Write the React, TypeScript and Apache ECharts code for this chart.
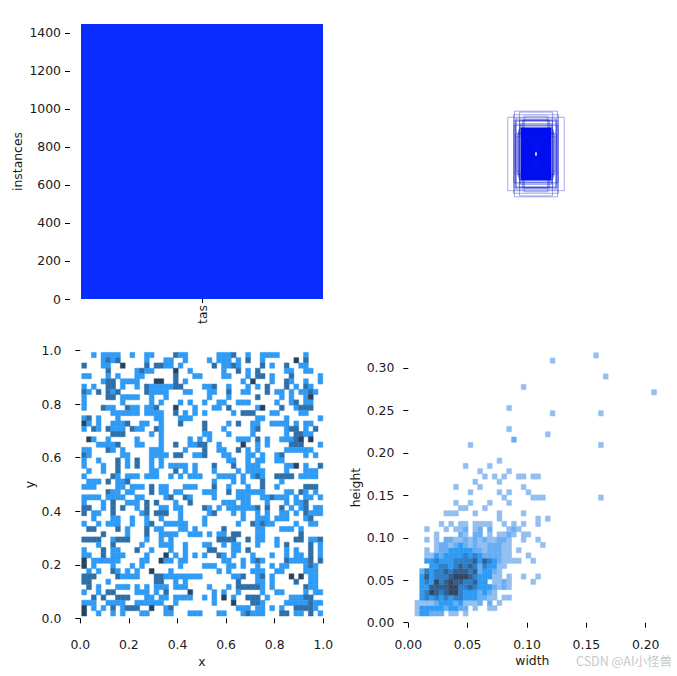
import React, { useEffect, useRef } from "react";
import * as echarts from "echarts";

const classNames = ["tas"];
const classCounts = [1447];
const instanceTicks = [0, 200, 400, 600, 800, 1000, 1200, 1400];
const unitTicks = [0, 0.2, 0.4, 0.6, 0.8, 1.0];
const widthTicks = [0, 0.05, 0.1, 0.15, 0.2];
const heightTicks = [0, 0.05, 0.1, 0.15, 0.2, 0.25, 0.3];

// box sizes (normalised) read from the anchor overlay, outer to inner
const boxWidths = [0.208, 0.158, 0.165, 0.121, 0.162, 0.162, 0.121, 0.087, 0.09, 0.152, 0.115, 0.1, 0.13, 0.12, 0.14, 0.118, 0.128, 0.11, 0.125, 0.135, 0.149, 0.147, 0.148, 0.15,
  0.105, 0.103, 0.102, 0.1, 0.097, 0.095, 0.092, 0.09, 0.087, 0.085, 0.083, 0.08, 0.077, 0.075, 0.072, 0.07, 0.068, 0.065, 0.062, 0.06, 0.057, 0.055, 0.053, 0.05, 0.047, 0.045, 0.042, 0.04, 0.037, 0.035, 0.032, 0.03, 0.027, 0.025, 0.022, 0.02, 0.018, 0.015, 0.013, 0.011];
const boxHeights = [0.27, 0.315, 0.289, 0.308, 0.247, 0.21, 0.247, 0.278, 0.252, 0.148, 0.222, 0.245, 0.17, 0.21, 0.13, 0.19, 0.16, 0.2, 0.185, 0.15, 0.264, 0.252, 0.24, 0.22,
  0.19, 0.186, 0.182, 0.178, 0.174, 0.17, 0.166, 0.162, 0.158, 0.154, 0.15, 0.145, 0.141, 0.137, 0.133, 0.129, 0.125, 0.12, 0.115, 0.111, 0.106, 0.102, 0.098, 0.093, 0.089, 0.084, 0.08, 0.075, 0.07, 0.065, 0.06, 0.055, 0.05, 0.045, 0.04, 0.035, 0.03, 0.026, 0.022, 0.018];
const OUTER_BOX_COUNT = 24;

// x/y histogram: row 0 is the top row; tokens are columns, "!" mid and "!!" dark cells
const xyRows = [
  "2 4-7 10 13-14 19! 20-21 28-30 31! 34 37-40 46",
  "4 5! 6 7! 13 17-18 21 26 28-30 32 34! 37 44!! 46!",
  "0! 4-5 8!! 13! 15! 16! 17-18 20 27! 29-30 31! 32 37! 39 42! 45-46",
  "5! 11 12! 13-14 19!! 22 29 32! 34 36! 42-43 46-47",
  "0-1 5 7 11-12 19! 23-24 29-30 34 36-37! 39 43! 49",
  "4 5! 6! 8-11 15!! 16!! 19! 21 33 35!! 39 42! 43 46 49",
  "0 2 5! 6! 8 11 13! 14-18 19! 20! 25-26 27! 30 34 36 38! 42! 44 46! 47",
  "0! 1 3! 5! 6 7! 13! 14-16 17 21-22 26-27 30! 33-34 38! 40-41 43 45-46 47! 48",
  "0 5! 6! 8-11 14 17 26 30 36! 41 43 46 47!!",
  "0 8 14 16 20 22 25 28-29 32-34 40 43 44! 46-47",
  "0 4! 5-6 9! 10-11 13-14 15! 19!! 23 27-28 30! 36 37!! 41! 44 45! 46! 47!",
  "6-11 13-16 19! 21 23 25 31 33-34! 35! 39-40 45-46",
  "0 1! 3 7 15-16 20-22 36-37 42 49",
  "0!! 1 3 6-8 9! 12-13 16 20! 25! 30 32! 35-36 39-42 44 46-47",
  "0 2! 3 5! 6-8 10! 11-12 15! 16 25! 29 35 36! 42 43! 44! 46 48!",
  "6! 7! 8! 14 16 25-26 30 35 42 44! 45! 46-47",
  "1!! 2 5 11 16 22 24 26 32-34 36! 38 41-43 44! 45!! 47!!",
  "3-6 7! 11-12 16 19! 22-23 24! 25! 28 33!! 36 38 43-45! 49",
  "0-1 5! 6 8 14-16 21 25! 28-29 32! 34 36 42-47",
  "0! 1 8-9 14-17 19! 20! 23-24 25! 29-30 34-35 37 40 41! 46 48",
  "0 3 7! 9 11! 14 16 30-31 34 36-37 40-41",
  "0 4 7! 9 11! 14 16 18-20 21 23 27! 31! 34-36 42-43 44!! 46 49!",
  "1 4 7! 14 15 19! 21 23 27 32 34-37 42 46-48",
  "0 6! 7 9-11 13-15 18 20 22-24 28-31 33 35 36! 37 40-43! 45-48",
  "1 2 3 5! 7-8 9! 27 31 33 37! 41",
  "0-2 7-8 10-12 14! 16-17 21-23 27! 30 34 37! 40 46! 47! 48!",
  "5! 6-7 9-10 14! 16-17 19-20 25-26 27 30! 32-35 36-37 42-43 45! 46 48",
  "0-3 5-6 7-8 11-12 17 18! 21! 22 27 32-34 37-38 39! 40-42 44 46-47 49",
  "0 4 6! 9-11 13! 15! 19 22! 29-31 33-34 38 42 44-45 46!",
  "0-1! 4 6! 8! 11 13! 16-17 19-20 25! 26 28 30-31 32-35 36! 38! 41! 43 45 46! 48-49",
  "0! 2-3 6! 12 13! 15-17! 20 26 27! 31 33 36 38 41-42 44 46! 47-49",
  "2 6 7 10 13 16 20 25 33 36-37 38 40-42 46 47!",
  "0 3 5-7 10 13 14! 17-21 25 32 35! 36 37! 38-39 44 47-48",
  "1-2! 7! 9 13! 15-16 20-21 23 29! 36-37 41-43 45",
  "4! 9 13! 16-19 22-24 26 28-29 31-32! 36 37 45!",
  "0-3! 6 7-9! 13 16 18 28-31! 34! 36-37 40 44-45! 47-48 49!",
  "3 6! 12 16-18 21 25-26 29 31-32 36 40 42! 47! 49",
  "0 4! 6-7 11! 14 18 21 26-27! 31-32 34! 42 44 47! 49",
  "0-1 4! 6-8 13 17!! 19 21 23 25 28! 29 31 35 39 42 44-45 47! 49",
  "0!! 2-5 6-7 12-13 16!! 17-18 20-21 29-30 33 35 36! 37 42! 43-46 47! 49!",
  "0!! 2 6 10 12 20 25-27 30-31 33 36 39 41-42 46 47! 48",
  "1 3 6! 7 9 11 14!! 18 28 30 35-37 40-41 46-48",
  "0-2! 7! 8-11 15-16! 17-24 31 32 33! 36 37! 39 43!! 45!! 47-48",
  "0-1! 5 15! 16! 19 21 32! 36-37 39 44! 47-48",
  "1! 3 7-9 11 13 15-17 19-21 26 30 32-36! 37 39 46! 47-48",
  "0 3 5-6! 11-13 15 17! 22!! 27 29 32 37 40-41 46 48-49",
  "2! 4! 7-9! 13-14 16-17 19-22 25 27 29!! 31 34-36! 38 43-45 46-47!",
  "0-2 5-8 11-16 19 27 31!! 35-36! 37 42-46 47! 48-49",
  "0!! 2 4 6! 8 9-11! 14!! 17 18! 32-34 36-37 39 41 44-47! 48",
  "0!! 3 6 8 12-13 17-18 22-24 28-29 33 34! 35-37 41-42! 44-45 47! 49",
];

// width/height histogram: dense lower rows, one digit per column, row 0 at the bottom
const whDenseRows = [
  "133222.11.1",
  "13333323322.1..11",
  "11112333231112.2.1",
  ".3434343443332211.11",
  ".3465456643332321",
  ".3355556644543332121",
  ".34364565544533.1121....1",
  ".35344456665433311.1..1..1",
  ".24344545554523321",
  "...3344345454243311",
  "..33433344445354321111..1",
  "..113233334343222211...1",
  "..1.1223333322122211.1",
  "....1221232121122211......1",
  "..1.1.22112121211221..1..1",
  "....1....21.22.1.1121.11",
  "..1...1.112.12.2...121",
];
// sparse upper rows, starting at row 17: tokens are columns
const whSparseRows = [
  "5 7 9 10 12-15 18 20 22 25",
  "17 25 27",
  "6-8 12 17 22",
  "9 10 14",
  "8 11 15 19",
  "18 24-26 38",
  "11 17 19 23",
  "8 13 22",
  "12 17",
  "14 16 18 21 22 24 25",
  "13 19",
  "10 15",
  "17",
  "",
  "",
  "11 38",
  "20!",
  "27",
  "19",
  "",
  "",
  "28 38",
  "19",
  "",
  "",
  "49",
  "22",
  "",
  "39",
  "",
  "",
  "28",
  "37",
];

const xyColors = ["", "#2f9bf5", "#2f6fa8", "#27425e"];
const whColors = ["", "#93bff0", "#68aef3", "#2e9cf5", "#2f7fc8", "#2f6090", "#36465c"];

const XY_X0 = 0.006, XY_DX = 0.01984, XY_Y0 = 0.0086, XY_DY = 0.0197;
const WH_X0 = 0.00556, WH_DX = 0.00407, WH_Y0 = 0.00787, WH_DY = 0.0062;

function parseTokens(line: string): [number, number][] {
  const out: [number, number][] = [];
  line.split(" ").filter(Boolean).forEach((tok) => {
    const level = tok.endsWith("!!") ? 3 : tok.endsWith("!") ? 2 : 1;
    const [a, b] = tok.replace(/!/g, "").split("-").map(Number);
    for (let c = a; c <= (b === undefined ? a : b); c++) out.push([c, level]);
  });
  return out;
}

const xyData: number[][] = [];
xyRows.forEach((line, r) => {
  parseTokens(line).forEach(([c, level]) => {
    const top = 49 - r;
    xyData.push([XY_X0 + c * XY_DX, XY_X0 + (c + 1) * XY_DX, XY_Y0 + top * XY_DY, XY_Y0 + (top + 1) * XY_DY, level]);
  });
});

const whData: number[][] = [];
const pushWh = (r: number, c: number, level: number) =>
  whData.push([WH_X0 + c * WH_DX, WH_X0 + (c + 1) * WH_DX, WH_Y0 + r * WH_DY, WH_Y0 + (r + 1) * WH_DY, level]);
whDenseRows.forEach((line, r) => {
  line.split("").forEach((ch, c) => {
    if (ch !== ".") pushWh(r, c, Number(ch));
  });
});
whSparseRows.forEach((line, i) => {
  parseTokens(line).forEach(([c, level]) => pushWh(17 + i, c, level));
});

const boxData = boxWidths.map((w, i) => [0.5 - w / 2, 0.5 + w / 2, 0.5 - boxHeights[i] / 2, 0.5 + boxHeights[i] / 2]);

const FONT = "DejaVu Sans";
const FS = 12.4;
const TXT = "#1a1a1a";

function cellRender(colors: string[]) {
  return (_: any, api: any) => {
    const a = api.coord([api.value(0), api.value(3)]);
    const b = api.coord([api.value(1), api.value(2)]);
    const color = colors[api.value(4)];
    return {
      type: "rect",
      shape: { x: a[0], y: a[1], width: b[0] - a[0], height: b[1] - a[1] },
      style: { fill: color, stroke: color, lineWidth: 0.5 },
    };
  };
}

function boxRender(params: any, api: any) {
  const a = api.coord([api.value(0), api.value(3)]);
  const b = api.coord([api.value(1), api.value(2)]);
  const inner = params.dataIndex >= OUTER_BOX_COUNT;
  return {
    type: "rect",
    shape: { x: a[0], y: a[1], width: b[0] - a[0], height: b[1] - a[1] },
    style: { fill: "none", stroke: inner ? "rgba(0,16,240,0.95)" : "rgba(20,35,205,0.38)", lineWidth: inner ? 1.5 : 1 },
  };
}

function numAxis(opts: any) {
  const { ticks, digits, name, nameGap, offset, min, max, rotate, margin } = opts;
  return {
    type: "value",
    min,
    max,
    offset,
    name,
    nameLocation: "middle",
    nameGap,
    nameRotate: rotate,
    nameTextStyle: { fontFamily: FONT, fontSize: FS, color: TXT },
    axisLine: { show: false },
    splitLine: { show: false },
    axisTick: { show: true, length: 5, customValues: ticks, lineStyle: { color: "#000", width: 1 } },
    axisLabel: {
      show: true,
      margin,
      customValues: ticks,
      fontFamily: FONT,
      fontSize: FS,
      color: TXT,
      formatter: (v: number) => (digits === 0 ? String(Math.round(v)) : v.toFixed(digits)),
    },
  };
}

export default function App() {
  const ref = useRef<HTMLDivElement>(null);
  useEffect(() => {
    const chart = echarts.init(ref.current!, undefined, { renderer: "svg" });
    chart.setOption({
      animation: false,
      backgroundColor: "#ffffff",
      grid: [
        { left: 81, top: 24, width: 242, height: 275 },
        { left: 400, top: 18, width: 272, height: 272 },
        { left: 80.3, top: 350.7, width: 243, height: 267.6 },
        { left: 408.3, top: 352.5, width: 248.1, height: 270.2 },
      ],
      xAxis: [
        {
          type: "category",
          gridIndex: 0,
          data: classNames,
          axisLine: { show: false },
          axisTick: { show: true, alignWithLabel: true, length: 4, lineStyle: { color: "#000", width: 1 } },
          axisLabel: { rotate: 90, margin: 6, fontFamily: FONT, fontSize: FS, color: TXT },
        },
        { type: "value", gridIndex: 1, min: 0, max: 1, show: false },
        { ...numAxis({ ticks: unitTicks, digits: 1, name: "x", nameGap: 27, offset: 10, min: 0, max: 1, margin: 10 }), gridIndex: 2 },
        { ...numAxis({ ticks: widthTicks, digits: 2, name: "width", nameGap: 26, offset: 5.5, min: 0, max: 0.209, margin: 10 }), gridIndex: 3 },
      ],
      yAxis: [
        { ...numAxis({ ticks: instanceTicks, digits: 0, name: "instances", nameGap: 47, offset: 11, min: 0, max: 1447, rotate: 90, margin: 9 }), gridIndex: 0 },
        { type: "value", gridIndex: 1, min: 0, max: 1, show: false },
        { ...numAxis({ ticks: unitTicks, digits: 1, name: "y", nameGap: 35, offset: 10, min: 0, max: 1, rotate: 90, margin: 9 }), gridIndex: 2 },
        { ...numAxis({ ticks: heightTicks, digits: 2, name: "height", nameGap: 42, offset: 5, min: 0, max: 0.3182, rotate: 90, margin: 9 }), gridIndex: 3 },
      ],
      series: [
        {
          type: "bar",
          xAxisIndex: 0,
          yAxisIndex: 0,
          data: classCounts,
          barWidth: "100%",
          itemStyle: { color: "#0a2cff" },
        },
        {
          type: "custom",
          xAxisIndex: 1,
          yAxisIndex: 1,
          data: boxData,
          encode: { x: [0, 1], y: [2, 3] },
          renderItem: boxRender,
          silent: true,
        },
        {
          type: "custom",
          xAxisIndex: 2,
          yAxisIndex: 2,
          data: xyData,
          encode: { x: [0, 1], y: [2, 3] },
          renderItem: cellRender(xyColors),
          silent: true,
        },
        {
          type: "custom",
          xAxisIndex: 3,
          yAxisIndex: 3,
          data: whData,
          encode: { x: [0, 1], y: [2, 3] },
          renderItem: cellRender(whColors),
          silent: true,
        },
      ],
      graphic: [
        {
          type: "text",
          left: 576,
          top: 654,
          style: { text: "CSDN @AI小怪兽", fill: "#c8c8c8", font: '12.5px "Noto Sans CJK SC"' },
        },
      ],
    });
    return () => chart.dispose();
  }, []);
  return <div ref={ref} style={{ position: "fixed", left: 0, top: 0, width: 677, height: 676 }} />;
}
